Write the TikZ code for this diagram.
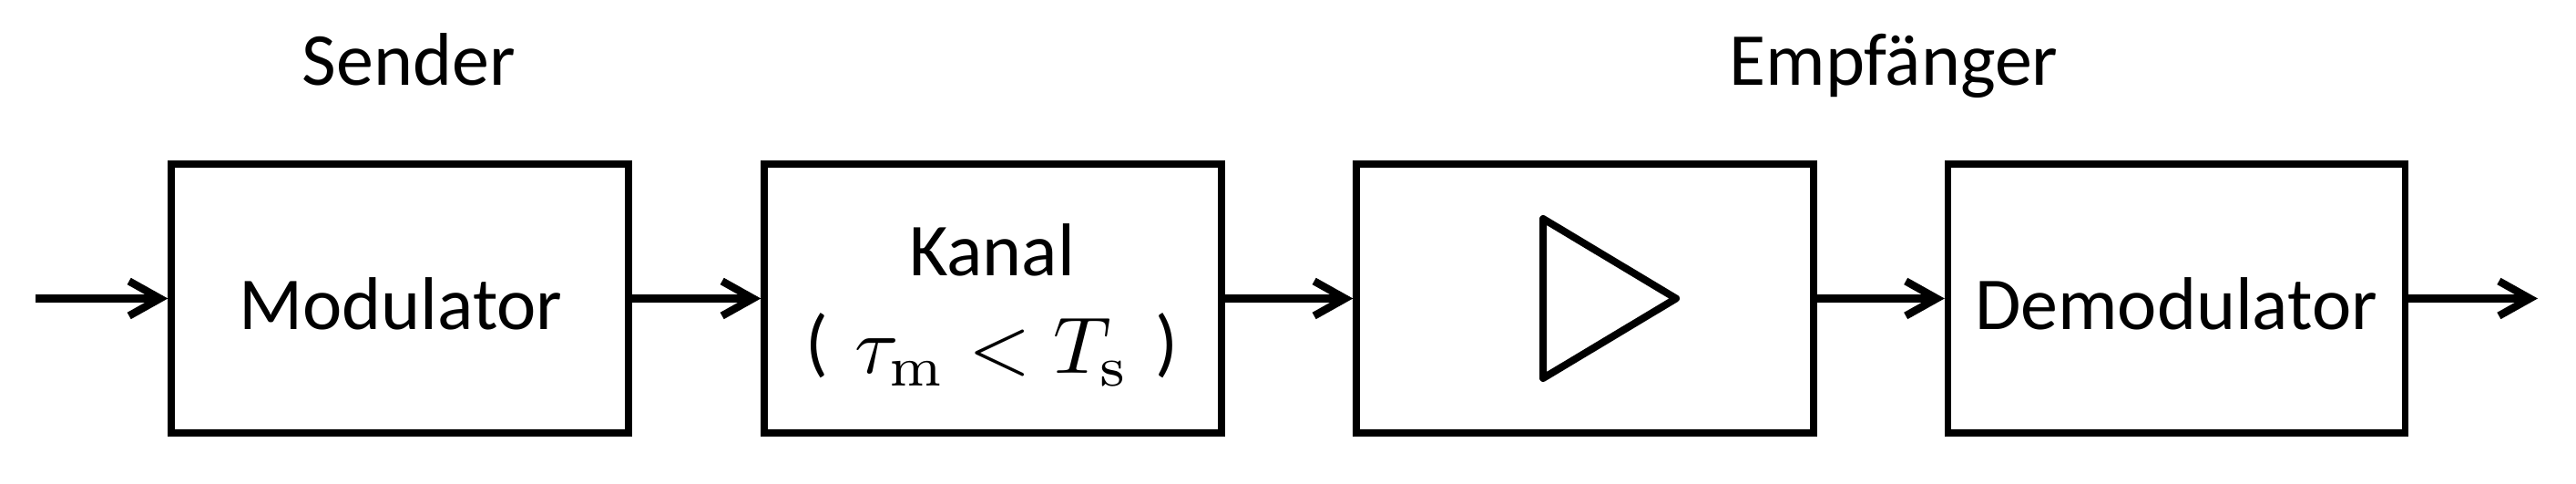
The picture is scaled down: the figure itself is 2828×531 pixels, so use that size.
\documentclass[tikz,border=0pt]{standalone}
\usepackage{graphicx}
\usepackage[no-math]{fontspec}
\setmainfont{Carlito}
\usetikzlibrary{arrows.meta}
\begin{document}
\begin{tikzpicture}[x=0.25pt,y=-0.25pt,
  box/.style={draw,line width=1.85pt,minimum width=125.5pt,minimum height=73.75pt,inner sep=0pt},
  lbl/.style={font=\fontsize{20.5}{24}\selectfont,inner sep=0pt,anchor=base},
  conn/.style={line width=2.1pt,-{Straight Barb[length=8.5pt,width=9.5pt]}}]
\useasboundingbox (0,0) rectangle (2828,531);
\node[box] (mod) at (439,327.5) {};
\node[box] (kan) at (1090,327.5) {};
\node[box] (amp) at (1740,327.5) {};
\node[box] (dem) at (2389.5,327.5) {};
\node[lbl] (sender) at (449,94) {Sender};
\node[lbl] (empf) at (2079,94) {Empfänger};
\node[lbl] (modt) at (440,362) {Modulator};
\node[lbl] (demt) at (2389,362) {Demodulator};
\node[lbl] (kanalt) at (1089,303) {Kanal};
\node[lbl,anchor=base west] (taut) at (884,410) {\raisebox{1.5pt}{(}\hspace{2.5pt} \scalebox{2.2}{\normalsize$\tau_\mathrm{m} < T_\mathrm{s}$}\hspace{2.5pt} \raisebox{1.5pt}{)}};
\draw[line width=2pt,line join=round] (1694,240) -- (1840,327.5) -- (1694,415) -- cycle;
\coordinate (in) at (39,327.5);
\coordinate (out) at (2786,327.5);
\draw[conn] (in) -- (mod.west);
\draw[conn] (mod.east) -- (kan.west);
\draw[conn] (kan.east) -- (amp.west);
\draw[conn] (amp.east) -- (dem.west);
\draw[conn] (dem.east) -- (out);
\end{tikzpicture}
\end{document}
